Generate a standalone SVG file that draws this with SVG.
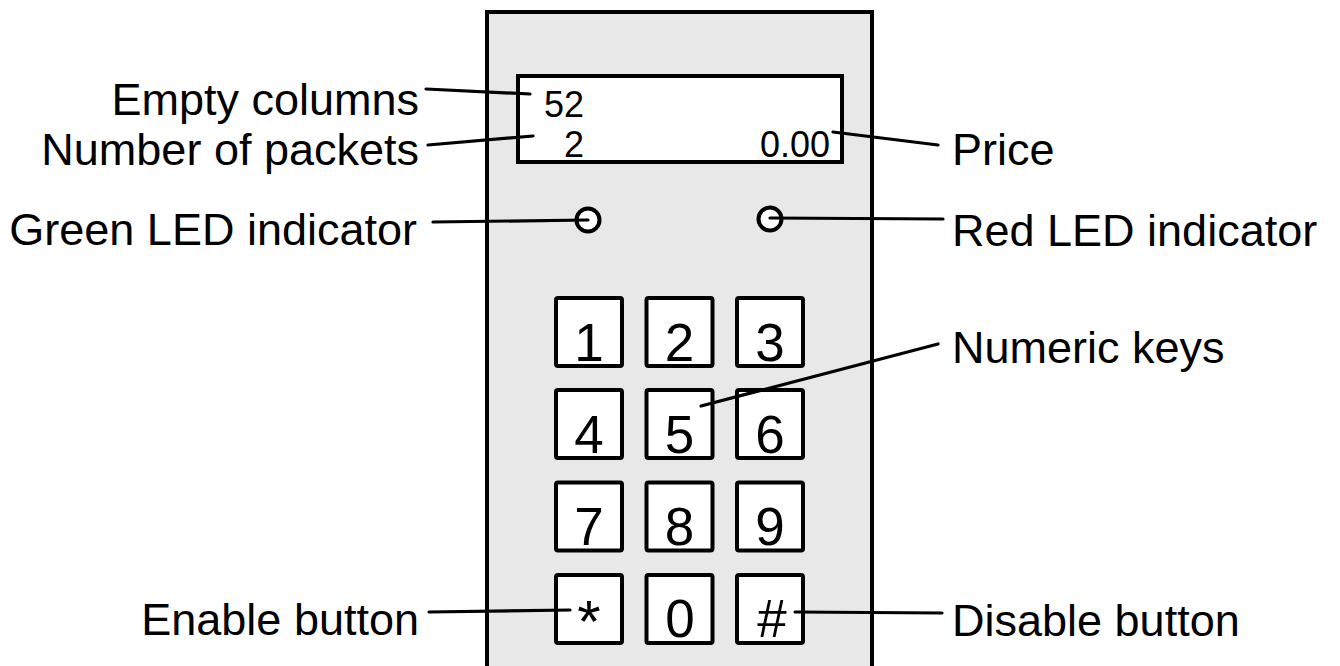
<svg xmlns="http://www.w3.org/2000/svg" width="1340" height="666" viewBox="0 0 1340 666">
<style>
.lbl{font-family:"Liberation Sans",Arial,sans-serif;font-size:45px;fill:#000}
.disp{font-family:"Liberation Sans",Arial,sans-serif;font-size:36px;fill:#000}
.key rect{fill:#fff;stroke:#000;stroke-width:4}
.key text{font-family:"Liberation Sans",Arial,sans-serif;font-size:53px;fill:#000;text-anchor:middle}
.led{fill:#fff;stroke:#000;stroke-width:4}
.conn line{stroke:#000;stroke-width:3.2;stroke-linecap:round}
</style>
<rect width="1340" height="666" fill="#fff"/>
<g id="device">
<rect x="487" y="12" width="385" height="660" fill="#e8e8e8" stroke="#000" stroke-width="4"/>
</g>
<g id="display">
<rect x="518" y="76" width="324" height="86" fill="#fff" stroke="#000" stroke-width="4"/>
<text class="disp" x="584" y="117" text-anchor="end">52</text>
<text class="disp" x="584" y="157" text-anchor="end">2</text>
<text class="disp" x="830" y="157" text-anchor="end">0.00</text>
</g>
<g id="green-led"><circle class="led" cx="588" cy="220" r="11.5"/></g>
<g id="red-led"><circle class="led" cx="770" cy="219" r="11.5"/></g>
<g id="key-1" class="key"><rect x="556" y="298" width="66" height="68" rx="2"/><text x="589" y="361">1</text></g>
<g id="key-2" class="key"><rect x="646.5" y="298" width="66" height="68" rx="2"/><text x="679.5" y="361">2</text></g>
<g id="key-3" class="key"><rect x="737" y="298" width="66" height="68" rx="2"/><text x="770" y="361">3</text></g>
<g id="key-4" class="key"><rect x="556" y="390" width="66" height="68" rx="2"/><text x="589" y="453">4</text></g>
<g id="key-5" class="key"><rect x="646.5" y="390" width="66" height="68" rx="2"/><text x="679.5" y="453">5</text></g>
<g id="key-6" class="key"><rect x="737" y="390" width="66" height="68" rx="2"/><text x="770" y="453">6</text></g>
<g id="key-7" class="key"><rect x="556" y="482.5" width="66" height="68" rx="2"/><text x="589" y="544.5">7</text></g>
<g id="key-8" class="key"><rect x="646.5" y="482.5" width="66" height="68" rx="2"/><text x="679.5" y="544.5">8</text></g>
<g id="key-9" class="key"><rect x="737" y="482.5" width="66" height="68" rx="2"/><text x="770" y="544.5">9</text></g>
<g id="key-star" class="key"><rect x="556" y="575" width="66" height="68" rx="2"/><text x="589" y="642" style="font-size:60px">*</text></g>
<g id="key-0" class="key"><rect x="646.5" y="575" width="66" height="68" rx="2"/><text x="680" y="637">0</text></g>
<g id="key-hash" class="key"><rect x="737" y="575" width="66" height="68" rx="2"/><text x="772" y="637">#</text></g>
<g id="labels">
<text class="lbl" x="419" y="115" text-anchor="end">Empty columns</text>
<text class="lbl" x="419" y="165" text-anchor="end">Number of packets</text>
<text class="lbl" x="417" y="245" text-anchor="end">Green LED indicator</text>
<text class="lbl" x="419" y="635" text-anchor="end">Enable button</text>
<text class="lbl" x="952" y="165">Price</text>
<text class="lbl" x="952" y="246">Red LED indicator</text>
<text class="lbl" x="952" y="363">Numeric keys</text>
<text class="lbl" x="952" y="636">Disable button</text>
</g>
<g id="connectors" class="conn">
<line x1="426" y1="89" x2="530" y2="94"/>
<line x1="428" y1="145" x2="533" y2="136"/>
<line x1="433" y1="222" x2="588" y2="220"/>
<line x1="429" y1="612" x2="570" y2="610"/>
<line x1="833" y1="132" x2="938" y2="145"/>
<line x1="770" y1="218" x2="943" y2="219"/>
<line x1="701" y1="406" x2="938" y2="344"/>
<line x1="795" y1="612" x2="942" y2="613"/>
</g>
</svg>
